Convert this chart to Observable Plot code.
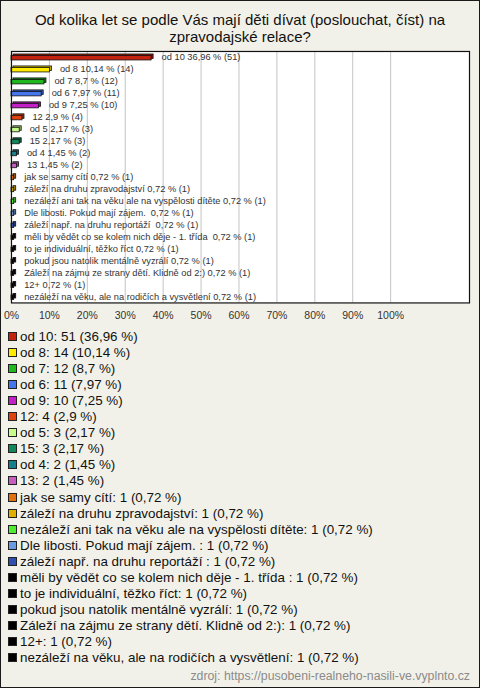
<!DOCTYPE html>
<html><head><meta charset="utf-8">
<script src="https://cdn.jsdelivr.net/npm/d3@7"></script>
<script src="https://cdn.jsdelivr.net/npm/@observablehq/plot@0.6"></script>
<style>
body{margin:0;background:#fff;}
#wrap{position:relative;width:480px;height:688px;box-sizing:border-box;border:1px solid #1a1a1a;background:#f2f1e9;font-family:"Liberation Sans",Arial,sans-serif;overflow:hidden;}
#title{position:absolute;top:10px;left:0;width:100%;text-align:center;font-size:15px;line-height:17.4px;color:#111;}
#chart{position:absolute;top:39px;left:-1px;}
#chart svg text{white-space:pre;}
.row{position:absolute;left:7px;height:15px;line-height:15px;font-size:13.4px;color:#111;white-space:pre;}
.sw{display:inline-block;width:7px;height:7px;border:1px solid #222;margin-right:3px;vertical-align:0px;}
#foot{position:absolute;right:9px;top:668px;font-size:12.3px;color:#8a8a8a;}
</style></head>
<body>
<div id="wrap">
  <div id="title">Od kolika let se podle Vás mají děti dívat (poslouchat, číst) na<br>zpravodajské relace?</div>
  <div id="chart"></div>
  <div id="legend"></div>
  <div id="foot">zdroj: https://pusobeni-realneho-nasili-ve.vyplnto.cz</div>
</div>
<script>
const categories = ["od 10","od 8","od 7","od 6","od 9","12","od 5","15","od 4","13",
  "jak se samy cítí","záleží na druhu zpravodajství","nezáleží ani tak na věku ale na vyspělosti dítěte",
  "Dle libosti. Pokud mají zájem. ","záleží např. na druhu reportáží ","měli by vědět co se kolem nich děje - 1. třída ",
  "to je individuální, těžko říct","pokud jsou natolik mentálně vyzrálí","Záleží na zájmu ze strany dětí. Klidně od 2:)",
  "12+","nezáleží na věku, ale na rodičích a vysvětlení"];
const counts = [51,14,12,11,10,4,3,3,2,2,1,1,1,1,1,1,1,1,1,1,1];
const percents = [36.96,10.14,8.7,7.97,7.25,2.9,2.17,2.17,1.45,1.45,0.72,0.72,0.72,0.72,0.72,0.72,0.72,0.72,0.72,0.72,0.72];
const colors = ["#c4210f","#ffea00","#1fb81f","#4576ee","#c41ec8","#e0420f","#c8fc8c","#12885a","#17808c","#c85ec0",
  "#e07010","#e0b000","#50ec30","#6a9ae0","#3050b0","#000000","#000000","#000000","#000000","#000000","#000000"];
const xTicks = [0,10,20,30,40,50,60,70,80,90,100];

const fmt = p => String(p).replace(".", ",");
const data = categories.map((c, i) => ({cat: c, n: counts[i], pct: percents[i], color: colors[i],
  back: d3.color(colors[i]).darker(0.9).formatHex()}));

const chart = Plot.plot({
  width: 480, height: 286,
  marginTop: 11, marginBottom: 23, marginLeft: 11, marginRight: 10,
  style: {background: "transparent", fontFamily: "'Liberation Sans', Arial, sans-serif"},
  x: {domain: [0, 120.8], label: null},
  y: {domain: categories, axis: null, padding: 0},
  marks: [
    Plot.frame({fill: "white", stroke: null}),
    Plot.gridX(xTicks.slice(1), {stroke: "#c4c4c4", strokeOpacity: 1}),
    Plot.barX(data, {x: "pct", y: "cat", fill: "back", stroke: "#111", strokeWidth: 0.8, insetTop: 4.5, insetBottom: 3, dx: 2, dy: -1.5}),
    Plot.barX(data, {x: "pct", y: "cat", fill: "color", stroke: "#111", strokeWidth: 0.8, insetTop: 4.5, insetBottom: 3}),
    Plot.text(data, {x: "pct", y: "cat", text: d => `${d.cat} ${fmt(d.pct)} % (${d.n})`, dx: 10, textAnchor: "start", fontSize: 9.3, fill: "#333"}),
    Plot.axisX(xTicks, {tickSize: 0, tickPadding: 9, tickFormat: d => d + "%", fontSize: 10.5, color: "#333", label: null}),
    Plot.frame({stroke: "#111", strokeWidth: 1.2})
  ]
});
document.getElementById("chart").appendChild(chart);

const legend = document.getElementById("legend");
data.forEach((d, i) => {
  const row = document.createElement("div");
  row.className = "row";
  row.style.top = (328 + i * 16.05) + "px";
  const sw = document.createElement("span");
  sw.className = "sw";
  sw.style.background = d.color;
  row.appendChild(sw);
  row.appendChild(document.createTextNode(`${d.cat}: ${d.n} (${fmt(d.pct)} %)`));
  legend.appendChild(row);
});
</script>
</body></html>
